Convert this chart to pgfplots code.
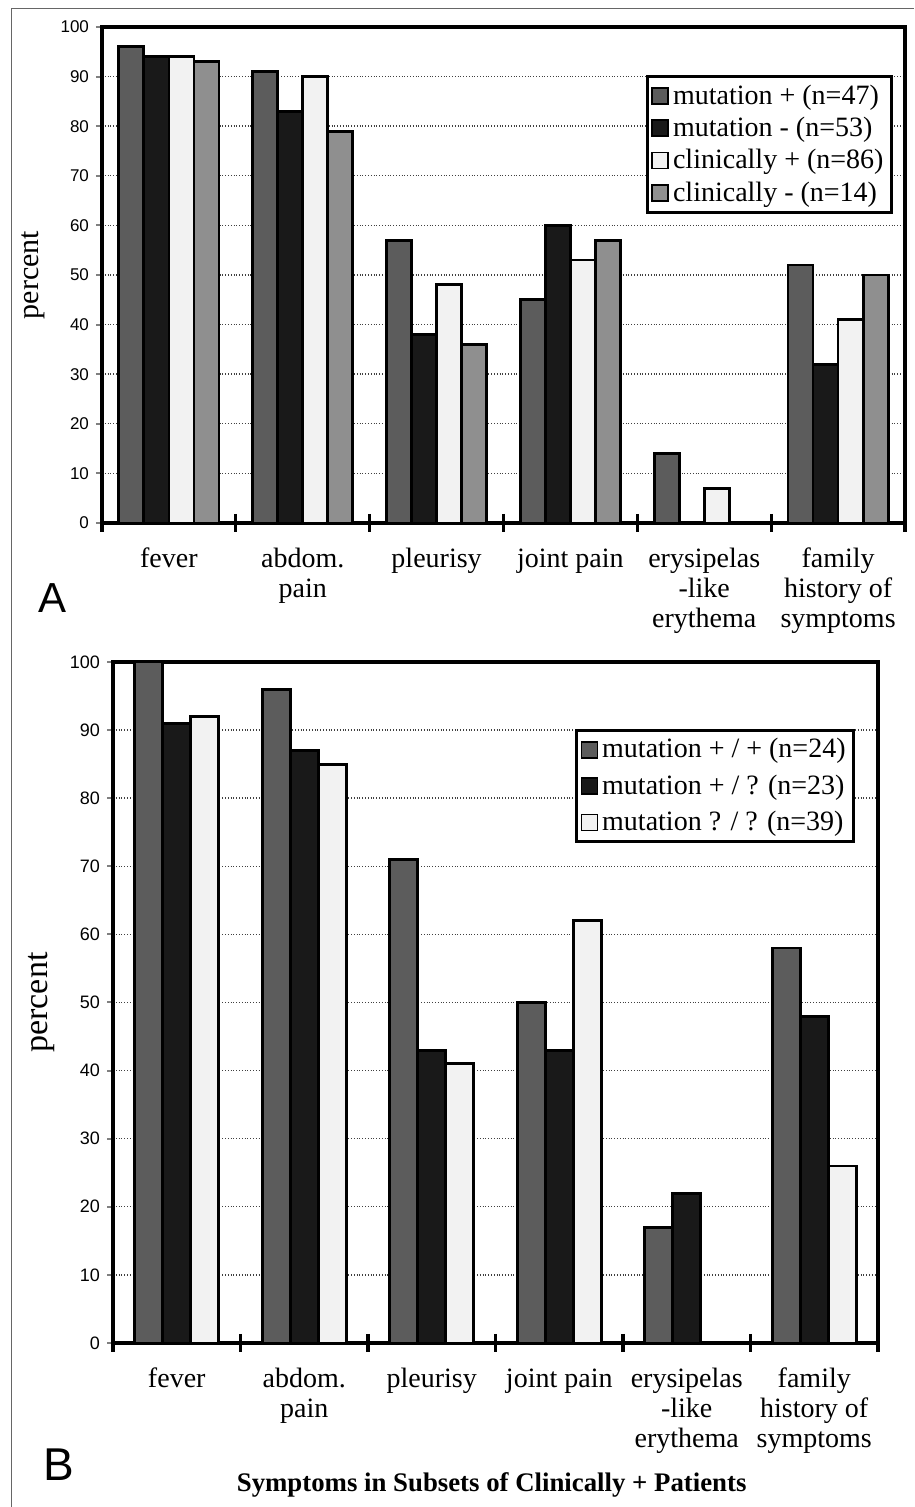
\documentclass[border=0pt]{standalone}
\usepackage{pgfplots}
\pgfplotsset{compat=1.18}
\usepackage{fontspec}
\setmainfont{Liberation Serif}
\setsansfont{Liberation Sans}
\definecolor{mp}{gray}{0.36}
\definecolor{mm}{gray}{0.10}
\definecolor{cp}{gray}{0.95}
\definecolor{cm}{gray}{0.56}

\pgfplotsset{
 fmf/.style={
  scale only axis,
  ybar=0pt,
  xmin=-0.5,xmax=5.5, ymin=0,ymax=100,
  ytick={0,10,...,100},
  xtick={0,...,5},
  xticklabels={fever, abdom.\\pain, pleurisy, joint pain, erysipelas\\-like\\erythema, family\\history of\\symptoms},
  tick pos=left,
  tick align=outside,
  major tick length=3pt,
  major x tick style={draw=none},
  ytick style={line width=1pt},
  axis line style={line width=2pt},
  ymajorgrids,
  major grid style={densely dotted, line width=0.7pt, black!75},
  every axis plot/.append style={draw=black, line width=1.4pt},
  /pgf/number format/assume math mode=true,
  yticklabel style={font=\sffamily\fontsize{8.5}{9}\selectfont},
  xticklabel style={font=\fontsize{14}{15}\selectfont, align=center, anchor=north, yshift=-6pt, execute at begin node={\vphantom{fbj}}},
  legend cell align=left,
  area legend,
  legend image code/.code={\draw[#1, line width=0.8pt] (0pt,-4pt) rectangle (8pt,4pt);},
  legend style={draw=black, line width=1.5pt, font=\fontsize{14}{16}\selectfont, inner sep=2pt, row sep=1pt},
  clip=false,
 }
}

\begin{document}
\begin{tikzpicture}
\path[use as bounding box] (0,0) rectangle (457pt,753.5pt);
\draw[black!60, line width=0.5pt] (5.5pt,0pt) -- (5.5pt,749pt) -- (457pt,749pt);

\begin{axis}[fmf, at={(51pt,492pt)}, anchor=south west, width=401.5pt, height=248pt,
  bar width=0.187,
  ylabel={percent},
  y label style={at={(axis description cs:-0.085,0.5)},anchor=center,font=\fontsize{15}{15}\selectfont},
  legend style={at={(axis description cs:0.985,0.903)},anchor=north east}]
\addplot[fill=mp] coordinates {(0,96) (1,91) (2,57) (3,45) (4,14) (5,52)};
\addplot[fill=mm] coordinates {(0,94) (1,83) (2,38) (3,60) (5,32)};
\addplot[fill=cp] coordinates {(0,94) (1,90) (2,48) (3,53) (4,7) (5,41)};
\addplot[fill=cm] coordinates {(0,93) (1,79) (2,36) (3,57) (5,50)};
\legend{mutation + (n=47), mutation - (n=53), clinically + (n=86), clinically - (n=14)}
\pgfplotsinvokeforeach{-0.5,0.5,1.5,2.5,3.5,4.5,5.5}{
  \draw[line width=1.6pt] ([yshift=4.5pt]axis cs:#1,0) -- ([yshift=-4.5pt]axis cs:#1,0);}
\node[font=\sffamily\fontsize{21}{21}\selectfont] at (axis description cs:-0.062,-0.151) {A};
\end{axis}

\begin{axis}[fmf, at={(56.5pt,82pt)}, anchor=south west, width=382.5pt, height=340.5pt,
  bar width=0.22,
  ylabel={percent},
  y label style={at={(axis description cs:-0.093,0.5)},anchor=center,font=\fontsize{17}{17}\selectfont},
  xlabel={\textbf{Symptoms in Subsets of Clinically + Patients}},
  x label style={at={(axis description cs:0.495,-0.2085)},anchor=center,font=\fontsize{13.4}{14}\selectfont},
  yticklabel style={font=\sffamily\fontsize{9}{9}\selectfont},
  legend style={at={(axis description cs:0.970,0.9016)},anchor=north east, row sep=3pt}]
\addplot[fill=mp] coordinates {(0,100) (1,96) (2,71) (3,50) (4,17) (5,58)};
\addplot[fill=mm] coordinates {(0,91) (1,87) (2,43) (3,43) (4,22) (5,48)};
\addplot[fill=cp] coordinates {(0,92) (1,85) (2,41) (3,62) (5,26)};
\legend{mutation + / + (n=24), mutation + / ? (n=23), mutation ? / ? (n=39)}
\pgfplotsinvokeforeach{-0.5,0.5,1.5,2.5,3.5,4.5,5.5}{
  \draw[line width=1.6pt] ([yshift=4.5pt]axis cs:#1,0) -- ([yshift=-4.5pt]axis cs:#1,0);}
\node[font=\sffamily\fontsize{23}{23}\selectfont] at (axis description cs:-0.0706,-0.179) {B};
\end{axis}
\end{tikzpicture}
\end{document}
